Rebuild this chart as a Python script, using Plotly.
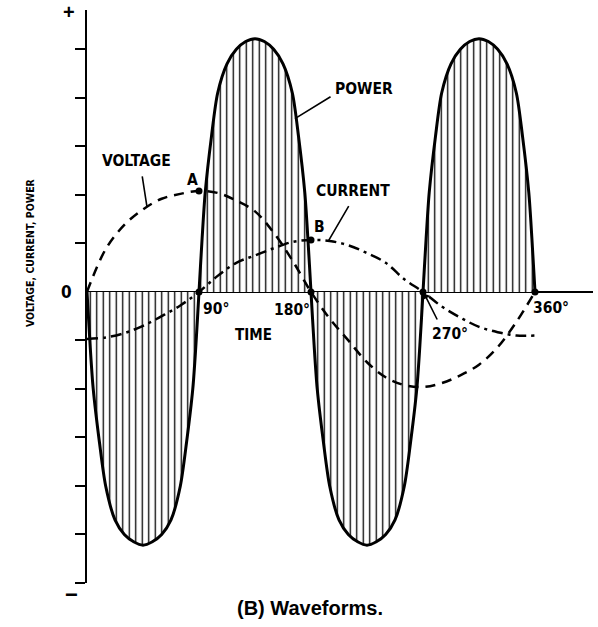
import plotly.graph_objects as go

# ---- data (degrees, relative units) ----
wave_deg = [0, 15, 30, 45, 60, 75, 90, 105, 120, 135, 150, 165, 180,
            195, 210, 225, 240, 255, 270, 285, 300, 315, 330, 345, 360]
voltage = [0, 0.88, 1.38, 1.70, 1.92, 2.02, 2.08, 2.04, 1.88, 1.66, 1.22, 0.65, 0,
           -0.55, -1.00, -1.45, -1.76, -1.92, -1.96, -1.88, -1.72, -1.50, -1.14, -0.62, 0]
current = [-0.97, -0.94, -0.85, -0.70, -0.50, -0.28, 0, 0.33, 0.60, 0.75, 0.90, 1.03, 1.07,
           1.05, 0.96, 0.80, 0.60, 0.26, 0, -0.30, -0.53, -0.72, -0.83, -0.90, -0.90]

power_deg = [0, 2.5, 5, 10, 15, 22.5, 30, 37.5, 45, 52.5, 60, 67.5, 75, 80, 85, 87.5,
             90, 92.5, 95, 100, 105, 112.5, 120, 127.5, 135, 142.5, 150, 157.5, 165, 170, 175, 177.5,
             180, 182.5, 185, 190, 195, 202.5, 210, 217.5, 225, 232.5, 240, 247.5, 255, 260, 265, 267.5,
             270, 272.5, 275, 280, 285, 292.5, 300, 307.5, 315, 322.5, 330, 337.5, 345, 350, 355, 357.5,
             360]
power = [0, -1.1, -2.0, -3.1, -4.0, -4.7, -5.0, -5.15, -5.22, -5.15, -5.0, -4.7, -4.0, -3.1, -2.0, -1.1,
         0, 1.1, 2.05, 3.2, 4.1, 4.7, 5.0, 5.16, 5.22, 5.16, 5.0, 4.7, 4.1, 3.2, 2.05, 1.1,
         0, -1.1, -2.0, -3.1, -4.0, -4.7, -5.0, -5.15, -5.22, -5.15, -5.0, -4.7, -4.0, -3.1, -2.0, -1.1,
         0, 1.1, 2.05, 3.2, 4.1, 4.7, 5.0, 5.16, 5.22, 5.16, 5.0, 4.7, 4.1, 3.2, 2.05, 1.1,
         0]

cross_deg = [90, 180, 270, 360]
axis_ticks = [-6, -5, -4, -3, -2, -1, 1, 2, 3, 4, 5]
deg_labels = ["90°", "180°", "270°", "360°"]

NARROW = "Liberation Sans Narrow, DejaVu Sans Condensed, Arial Narrow, sans-serif"
BOLD = "Liberation Sans, Arial, sans-serif"

fig = go.Figure()

# power with vertical hatching
fig.add_trace(go.Scatter(
    x=power_deg, y=power, mode="lines",
    line=dict(color="black", width=3, shape="spline", smoothing=0.8),
    fill="tozeroy", fillcolor="white",
    fillpattern=dict(shape="|", size=6.5, solidity=0.2, fgcolor="black",
                     bgcolor="white", fillmode="replace"),
    hoverinfo="skip", showlegend=False))

fig.add_trace(go.Scatter(
    x=wave_deg, y=voltage, mode="lines",
    line=dict(color="black", width=2.5, dash="10px,7px", shape="spline"),
    hoverinfo="skip", showlegend=False))

fig.add_trace(go.Scatter(
    x=wave_deg, y=current, mode="lines",
    line=dict(color="black", width=2.5, dash="11px,5px,3px,5px", shape="spline"),
    hoverinfo="skip", showlegend=False))

# dots
iA = wave_deg.index(90)
iB = wave_deg.index(180)
fig.add_trace(go.Scatter(
    x=cross_deg + [wave_deg[iA], wave_deg[iB]],
    y=[0] * len(cross_deg) + [voltage[iA], current[iB]],
    mode="markers", marker=dict(color="black", size=7),
    cliponaxis=False, hoverinfo="skip", showlegend=False))

ann = []
def txt(x, y, t, size=16, font=NARROW, xref="x", yref="y", **kw):
    d = dict(x=x, y=y, xref=xref, yref=yref, text=t, showarrow=False,
             xanchor="center", yanchor="middle",
             font=dict(family=font, size=size, color="black"))
    d.update(kw)
    ann.append(d)

def leader(x0, y0, x1, y1, head=0):
    ann.append(dict(x=x1, y=y1, ax=x0, ay=y0, xref="x", yref="y", axref="x", ayref="y",
                    text="", showarrow=True, arrowhead=head, arrowwidth=1.6,
                    arrowcolor="black", arrowsize=1))

# labels outside the plotting area (paper coordinates)
txt(-0.0356, 0.9965, "<b>+</b>", size=20, font=BOLD, xref="paper", yref="paper")
txt(-0.0316, -0.0209, "<b>−</b>", size=22, font=BOLD, xref="paper", yref="paper")
txt(-0.0415, 0, "<b>0</b>", size=17, xref="paper")
txt(-0.1126, 0.5759, "<b>VOLTAGE, CURRENT, POWER</b>", size=10.5, textangle=-90,
    xref="paper", yref="paper")
txt(0.4407, -0.0436, "<b>(B) Waveforms.</b>", size=20, font=BOLD, xref="paper", yref="paper")

# labels inside
txt(103.7, -0.35, "<b>%s</b>" % deg_labels[0], size=15.5)
txt(164.7, -0.37, "<b>%s</b>" % deg_labels[1], size=15.5)
txt(291.7, -0.87, "<b>%s</b>" % deg_labels[2], size=15.5)
txt(372.9, -0.33, "<b>%s</b>" % deg_labels[3], size=15.5)
txt(133.4, -0.89, "<b>TIME</b>", size=15)
txt(222.6, 4.19, "<b>POWER</b>", size=15.5)
txt(39.4, 2.70, "<b>VOLTAGE</b>", size=15.5)
txt(213.8, 2.08, "<b>CURRENT</b>", size=15.5)
txt(84.4, 2.31, "<b>A</b>", size=15.5)
txt(187.2, 1.34, "<b>B</b>", size=15.5)

leader(196.9, 4.04, 167.1, 3.57)
leader(44.2, 2.41, 48.2, 1.75)
leader(211.0, 1.80, 194.0, 1.05)
leader(282.0, -0.60, 271.0, -0.04, head=1)

fig.update_layout(
    width=598, height=627,
    margin=dict(l=87, r=5, t=10, b=44, autoexpand=False),
    paper_bgcolor="white", plot_bgcolor="white",
    annotations=ann,
    xaxis=dict(range=[0, 406.6], visible=False, showgrid=False, zeroline=False),
    yaxis=dict(range=[-6, 5.81], showgrid=False, showline=True, linecolor="black",
               linewidth=2, ticks="outside", ticklen=10, tickwidth=2, tickcolor="black",
               tickvals=axis_ticks, showticklabels=False, automargin=False,
               zeroline=True, zerolinecolor="black", zerolinewidth=2),
)

fig.write_html("out.html", config={"displayModeBar": False},
               post_script="document.body.style.margin='0px';document.body.style.padding='0px';")
